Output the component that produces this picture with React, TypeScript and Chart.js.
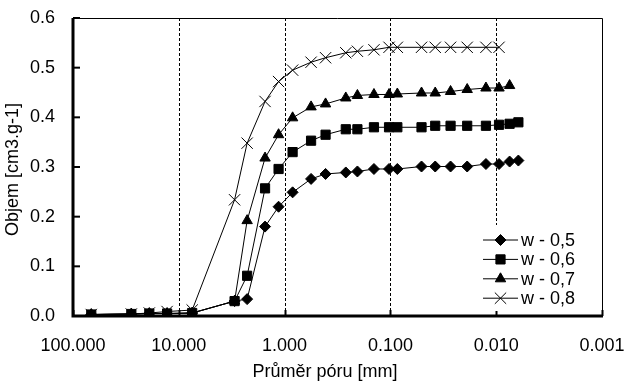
import React, { useEffect, useRef } from 'react';
import { Chart, registerables } from 'chart.js';
import { drawPoint } from 'chart.js/helpers';

Chart.register(...registerables);

// Pore diameters [mm]
const diameters = [67.2, 28.1, 19.0, 12.9, 7.47, 2.97, 2.26, 1.53, 1.14, 0.84, 0.562, 0.41, 0.264, 0.205, 0.143, 0.103, 0.086, 0.0508, 0.0377, 0.027, 0.0188, 0.0125, 0.0094, 0.00747, 0.00617];

const w05 = [0.003, 0.004, 0.005, 0.005, 0.006, 0.03, 0.034, 0.18, 0.22, 0.249, 0.276, 0.286, 0.289, 0.291, 0.296, 0.296, 0.296, 0.301, 0.301, 0.301, 0.301, 0.306, 0.306, 0.311, 0.313];
const w06 = [0.003, 0.004, 0.005, 0.005, 0.006, 0.03, 0.081, 0.257, 0.296, 0.33, 0.353, 0.365, 0.376, 0.376, 0.38, 0.38, 0.38, 0.38, 0.383, 0.383, 0.383, 0.383, 0.385, 0.387, 0.39];
const w07 = [0.003, 0.004, 0.005, 0.005, 0.006, 0.03, 0.192, 0.318, 0.365, 0.399, 0.421, 0.427, 0.439, 0.444, 0.446, 0.446, 0.447, 0.449, 0.449, 0.452, 0.456, 0.459, 0.459, 0.464];
const w08 = [0.003, 0.004, 0.006, 0.009, 0.012, 0.234, 0.348, 0.432, 0.472, 0.495, 0.511, 0.52, 0.53, 0.533, 0.536, 0.541, 0.541, 0.541, 0.541, 0.541, 0.541, 0.541, 0.541];

const seriesLabels = ['w - 0,5', 'w - 0,6', 'w - 0,7', 'w - 0,8'];
const seriesValues = [w05, w06, w07, w08];
const pointStyles = ['rectRot', 'rect', 'triangle', 'crossRot'];
const pointRadii = [5.5, 6.5, 6, 8];

const xTicks = [100, 10, 1, 0.1, 0.01, 0.001];
const yTicks = [0, 0.1, 0.2, 0.3, 0.4, 0.5, 0.6];

const xTitle = 'Průměr póru [mm]';
const yTitle = 'Objem [cm3.g-1]';

const FONT = '"Liberation Sans", Arial, Helvetica, sans-serif';
const FSIZE = 18;

const framePlugin = {
  id: 'framePlugin',
  beforeDatasetsDraw(chart: any) {
    const { ctx, chartArea: a, scales } = chart;
    const xs = scales.x;
    const ys = scales.y;
    ctx.save();
    ctx.strokeStyle = '#000';
    ctx.lineWidth = 1;
    // dotted vertical gridlines
    ctx.setLineDash([3, 2]);
    for (const v of xTicks.slice(1, -1)) {
      const px = Math.round(xs.getPixelForValue(v)) + 0.5;
      ctx.beginPath();
      ctx.moveTo(px, a.top);
      ctx.lineTo(px, a.bottom);
      ctx.stroke();
    }
    ctx.setLineDash([]);
    // top & right thin border
    ctx.beginPath();
    ctx.moveTo(a.left, Math.round(a.top) + 0.5);
    ctx.lineTo(Math.round(a.right) + 0.5, Math.round(a.top) + 0.5);
    ctx.lineTo(Math.round(a.right) + 0.5, a.bottom);
    ctx.stroke();
    // inner ticks
    ctx.lineWidth = 2;
    for (const v of yTicks) {
      const py = ys.getPixelForValue(v);
      ctx.beginPath();
      ctx.moveTo(a.left, py);
      ctx.lineTo(a.left + 7, py);
      ctx.stroke();
    }
    for (const v of xTicks) {
      const px = Math.round(xs.getPixelForValue(v)) + 0.5;
      ctx.beginPath();
      ctx.moveTo(px, a.bottom);
      ctx.lineTo(px, a.bottom - 6);
      ctx.stroke();
    }
    // thick left & bottom axes
    ctx.lineWidth = 3;
    ctx.beginPath();
    ctx.moveTo(a.left, a.top);
    ctx.lineTo(a.left, a.bottom);
    ctx.lineTo(a.right + 1, a.bottom);
    ctx.stroke();
    ctx.restore();
  },
  afterDatasetsDraw(chart: any) {
    const { ctx } = chart;
    ctx.save();
    // axis titles
    ctx.fillStyle = '#000';
    ctx.font = `${FSIZE}px ${FONT}`;
    ctx.textAlign = 'center';
    ctx.textBaseline = 'alphabetic';
    ctx.fillText(xTitle, 325, 377);
    ctx.save();
    ctx.translate(18, 169.5);
    ctx.rotate(-Math.PI / 2);
    ctx.fillText(yTitle, 0, 0);
    ctx.restore();

    // legend
    ctx.fillStyle = '#fff';
    ctx.fillRect(478, 225, 122, 86);
    const rowY0 = 240;
    const rowH = 19.4;
    chart.data.datasets.forEach((ds: any, i: number) => {
      const y = rowY0 + i * rowH;
      ctx.strokeStyle = '#000';
      ctx.lineWidth = 1;
      ctx.beginPath();
      ctx.moveTo(483, y);
      ctx.lineTo(518, y);
      ctx.stroke();
      ctx.fillStyle = '#000';
      drawPoint(ctx, { pointStyle: ds.pointStyle, rotation: 0, radius: ds.pointRadius, borderWidth: 1 } as any, 500.5, y);
      ctx.fillStyle = '#000';
      ctx.font = `${FSIZE}px ${FONT}`;
      ctx.textAlign = 'left';
      ctx.textBaseline = 'middle';
      ctx.fillText(ds.label, 521, y + 1);
    });
    ctx.restore();
  },
};

export default function App() {
  const ref = useRef<HTMLCanvasElement | null>(null);
  useEffect(() => {
    document.body.style.margin = '0';
    const canvas = ref.current!;
    const chart = new Chart(canvas, {
      type: 'scatter',
      data: {
        datasets: seriesValues.map((vals, i) => ({
          label: seriesLabels[i],
          data: vals.map((v, j) => ({ x: diameters[j], y: v })),
          showLine: true,
          borderColor: '#000',
          borderWidth: 1,
          backgroundColor: '#000',
          pointBackgroundColor: '#000',
          pointBorderColor: '#000',
          pointBorderWidth: 1,
          pointStyle: pointStyles[i],
          pointRadius: pointRadii[i],
          tension: 0,
        })),
      },
      options: {
        animation: false,
        responsive: false,
        maintainAspectRatio: false,
        layout: { padding: { top: 18, right: 26, left: 0, bottom: 0 } },
        plugins: { legend: { display: false }, tooltip: { enabled: false } },
        scales: {
          x: {
            type: 'logarithmic',
            reverse: true,
            min: 0.001,
            max: 100,
            afterBuildTicks: (s: any) => {
              s.ticks = xTicks.map((v) => ({ value: v }));
            },
            afterFit: (s: any) => {
              s.height = 71;
              s.paddingLeft = 0;
              s.paddingRight = 0;
            },
            ticks: {
              callback: (v: any) => Number(v).toFixed(3),
              color: '#000',
              font: { family: FONT, size: FSIZE },
              padding: 11,
              maxRotation: 0,
              autoSkip: false,
            },
            grid: { display: false },
            border: { display: false },
          },
          y: {
            min: 0,
            max: 0.6,
            afterFit: (s: any) => {
              s.width = 73;
              s.paddingTop = 0;
              s.paddingBottom = 0;
            },
            ticks: {
              stepSize: 0.1,
              callback: (v: any) => Number(v).toFixed(1),
              color: '#000',
              font: { family: FONT, size: FSIZE },
              padding: 10,
            },
            grid: { display: false },
            border: { display: false },
          },
        },
      },
      plugins: [framePlugin],
    } as any);
    return () => chart.destroy();
  }, []);
  return <canvas ref={ref} width={628} height={387} style={{ display: 'block' }} />;
}
